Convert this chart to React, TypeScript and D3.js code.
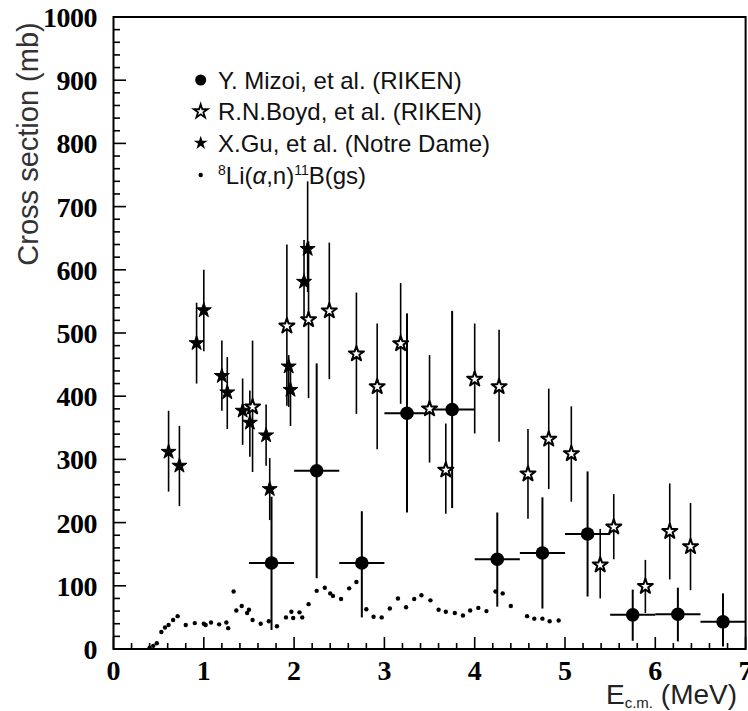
import React from "react";
import * as d3 from "d3";

// Y. Mizoi et al. (RIKEN) - filled circles, bins of 0.5 MeV
const mizoiE = [1.75, 2.25, 2.75, 3.25, 3.75, 4.25, 4.75, 5.25, 5.75, 6.25, 6.75];
const mizoiSigma = [136, 282, 136, 373, 379, 142, 152, 182, 54, 55, 43];
const mizoiLo = [30, 112, 50, 216, 223, 67, 64, 83, 13, 12, 4];
const mizoiHi = [241, 452, 218, 531, 535, 216, 240, 281, 94, 97, 88];
const mizoiHalfBin = 0.25;

// R.N. Boyd et al. (RIKEN) - open stars
const boydE = [1.54, 1.92, 2.16, 2.39, 2.69, 2.92, 3.18, 3.5, 3.68, 4.0, 4.27, 4.59, 4.82, 5.07, 5.39, 5.54, 5.89, 6.16, 6.39];
const boydSigma = [383, 511, 521, 535, 467, 415, 483, 380, 283, 427, 415, 277, 332, 309, 133, 193, 99, 186, 162];
const boydLo = [280, 385, 397, 427, 372, 316, 388, 295, 214, 341, 328, 206, 253, 233, 80, 142, 57, 110, 93];
const boydHi = [488, 640, 645, 643, 564, 515, 579, 465, 357, 515, 505, 348, 412, 384, 190, 245, 141, 262, 231];

// X. Gu et al. (Notre Dame) - filled stars
const guE = [0.61, 0.73, 0.92, 1.0, 1.2, 1.26, 1.43, 1.51, 1.69, 1.73, 1.94, 1.96, 2.11, 2.15];
const guSigma = [312, 290, 484, 536, 432, 406, 377, 358, 338, 253, 447, 410, 581, 633];
const guLo = [249, 226, 420, 471, 377, 348, 323, 304, 290, 204, 383, 353, 526, 565];
const guHi = [377, 353, 548, 600, 488, 462, 428, 409, 387, 302, 465, 440, 647, 740];

// 8Li(a,n)11B(gs) - small dots
const gsE = [0.4, 0.44, 0.48, 0.53, 0.57, 0.61, 0.66, 0.71, 0.8, 0.9, 1.0, 1.02, 1.08, 1.17, 1.25, 1.27,
  1.33, 1.36, 1.42, 1.48, 1.5, 1.54, 1.63, 1.72, 1.81, 1.91, 1.97, 1.99, 2.06, 2.09, 2.16, 2.25, 2.34,
  2.4, 2.43, 2.52, 2.61, 2.69, 2.8, 2.88, 2.97, 3.06, 3.15, 3.24, 3.33, 3.41, 3.51, 3.6, 3.68, 3.78,
  3.87, 3.95, 4.04, 4.13, 4.23, 4.31, 4.4, 4.58, 4.66, 4.75, 4.83, 4.93];
const gsSigma = [2, 5, 9, 27, 34, 38, 46, 52, 38, 41, 40, 38, 42, 39, 42, 33,
  91, 61, 68, 57, 62, 46, 40, 44, 36, 50, 59, 49, 58, 50, 71, 92, 97,
  88, 84, 79, 96, 106, 63, 51, 50, 64, 80, 66, 79, 85, 77, 62, 59, 57,
  53, 61, 65, 60, 91, 88, 68, 52, 48, 48, 44, 45];

const xTicks = [0, 1, 2, 3, 4, 5, 6, 7];
const yTicks = [0, 100, 200, 300, 400, 500, 600, 700, 800, 900, 1000];

const legendItems = ["mizoi", "boyd", "gu", "gs"];

const sans = "Liberation Sans";

export default function App() {
  const width = 748;
  const height = 711;
  const margin = { left: 113.5, right: 2.4, top: 17, bottom: 62 };

  const xScale = d3.scaleLinear().domain([0, 7]).range([margin.left, width - margin.right]);
  const yScale = d3.scaleLinear().domain([0, 1000]).range([height - margin.bottom, margin.top]);

  const x0 = xScale(0);
  const x1 = xScale(7);
  const y0 = yScale(0);
  const y1 = yScale(1000);

  const xMinor = d3.range(0, 7.0001, 0.2);
  const yMinor = d3.range(0, 1000.1, 20);

  const starPath = d3.symbol(d3.symbolStar, 70)();
  const starSmall = d3.symbol(d3.symbolStar, 60)();

  const legendX = 200.7;
  const legendY = [80, 111.5, 143, 175];

  return (
    <svg
      width={width}
      height={height}
      style={{ position: "fixed", left: 0, top: 0, background: "white" }}
    >
      <rect x={0} y={0} width={width} height={height} fill="white" />

      {/* frame */}
      <rect x={x0} y={y1} width={x1 - x0} height={y0 - y1} fill="none" stroke="black" strokeWidth={2} />

      {/* y ticks */}
      {yMinor.map((v) => (
        <line key={"ym" + v} x1={x0} x2={x0 + (v % 100 === 0 ? 12.5 : 6.5)} y1={yScale(v)} y2={yScale(v)}
          stroke="black" strokeWidth={1.6} />
      ))}
      <g fontFamily="Liberation Serif" fontWeight="bold" fontSize={28}>
        {yTicks.map((v) => (
          <text key={"yt" + v} x={97} y={yScale(v) + 10} textAnchor="end" letterSpacing={-0.5}>
            {v}
          </text>
        ))}
      </g>

      {/* x ticks */}
      {xMinor.map((v, i) => (
        <line key={"xm" + i} x1={xScale(v)} x2={xScale(v)} y1={y0} y2={y0 - (i % 5 === 0 ? 12 : 6)}
          stroke="black" strokeWidth={1.6} />
      ))}
      <g fontFamily="Liberation Serif" fontWeight="bold" fontSize={28}>
        {xTicks.map((v) => (
          <text key={"xt" + v} x={xScale(v)} y={680} textAnchor="middle">
            {v}
          </text>
        ))}
      </g>

      {/* axis titles */}
      <text transform={`translate(38, 144) rotate(-90)`} textAnchor="middle"
        fontFamily={sans} fontSize={29} fill="#333">
        Cross section (mb)
      </text>
      <text x={606} y={704} fontFamily={sans} fontSize={28} fill="#222">
        E<tspan dy={4} fontSize={15}>c.m.</tspan>
        <tspan dy={-4}> (MeV)</tspan>
      </text>

      {/* 8Li(a,n)11B(gs) dots */}
      {gsE.map((e, i) => (
        <circle key={"gs" + i} cx={xScale(e)} cy={yScale(gsSigma[i])} r={2.2} fill="black" />
      ))}

      {/* Boyd error bars */}
      {boydE.map((e, i) => (
        <line key={"be" + i} x1={xScale(e)} x2={xScale(e)} y1={yScale(boydLo[i])} y2={yScale(boydHi[i])}
          stroke="black" strokeWidth={1.6} />
      ))}

      {/* Gu error bars */}
      {guE.map((e, i) => (
        <line key={"ge" + i} x1={xScale(e)} x2={xScale(e)} y1={yScale(guLo[i])} y2={yScale(guHi[i])}
          stroke="black" strokeWidth={1.6} />
      ))}

      {/* Mizoi error bars */}
      {mizoiE.map((e, i) => (
        <g key={"me" + i} stroke="black" strokeWidth={2}>
          <line x1={xScale(e)} x2={xScale(e)} y1={yScale(mizoiLo[i])} y2={yScale(mizoiHi[i])} />
          <line x1={xScale(e - mizoiHalfBin)} x2={xScale(e + mizoiHalfBin)}
            y1={yScale(mizoiSigma[i])} y2={yScale(mizoiSigma[i])} />
        </g>
      ))}

      {boydE.map((e, i) => (
        <path key={"bs" + i} d={starPath} transform={`translate(${xScale(e)}, ${yScale(boydSigma[i])})`}
          fill="white" stroke="black" strokeWidth={2} strokeLinejoin="round" />
      ))}
      {guE.map((e, i) => (
        <path key={"gsr" + i} d={starPath} transform={`translate(${xScale(e)}, ${yScale(guSigma[i])})`}
          fill="black" stroke="black" strokeWidth={1} />
      ))}
      {mizoiE.map((e, i) => (
        <circle key={"mc" + i} cx={xScale(e)} cy={yScale(mizoiSigma[i])} r={6.8} fill="black" />
      ))}

      {/* legend */}
      {legendItems.map((item, i) => {
        const ly = legendY[i];
        let marker;
        if (item === "mizoi") marker = <circle cx={legendX} cy={ly} r={5.5} fill="black" />;
        else if (item === "boyd")
          marker = <path d={starSmall} transform={`translate(${legendX}, ${ly})`} fill="white" stroke="black" strokeWidth={1.8} />;
        else if (item === "gu")
          marker = <path d={starSmall} transform={`translate(${legendX}, ${ly})`} fill="black" />;
        else marker = <circle cx={legendX} cy={ly} r={2.2} fill="black" />;
        return (
          <g key={item}>
            {marker}
            <text x={218} y={ly + 8.5} fontFamily={sans} fontSize={24} fill="#111">
              {item === "mizoi" && "Y. Mizoi, et al. (RIKEN)"}
              {item === "boyd" && "R.N.Boyd, et al. (RIKEN)"}
              {item === "gu" && "X.Gu, et al. (Notre Dame)"}
              {item === "gs" && (
                <>
                  <tspan dy={-9} fontSize={14}>8</tspan>
                  <tspan dy={9}>Li(</tspan>
                  <tspan fontStyle="italic">α</tspan>
                  <tspan>,n)</tspan>
                  <tspan dy={-9} fontSize={14}>11</tspan>
                  <tspan dy={9}>B(gs)</tspan>
                </>
              )}
            </text>
          </g>
        );
      })}
    </svg>
  );
}
